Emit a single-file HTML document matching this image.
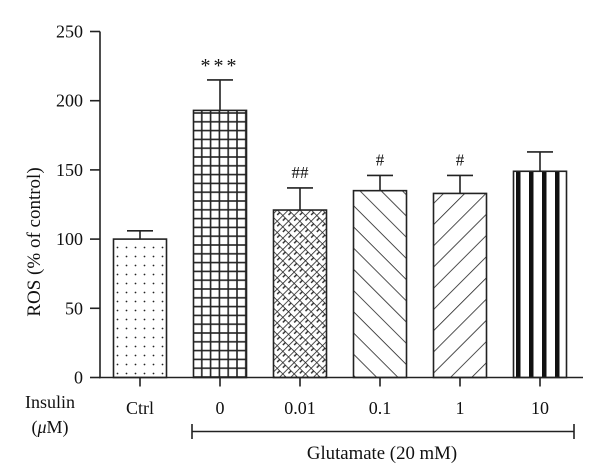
<!DOCTYPE html>
<html><head><meta charset="utf-8"><style>
html,body{margin:0;padding:0;background:#fff;position:relative}
svg{display:block}
svg text{font-family:"Liberation Serif",serif;fill:#111}
</style></head><body>
<svg id="chart" width="600" height="473" viewBox="0 0 600 473">
<defs>
<pattern id="p0" width="9" height="9" patternUnits="userSpaceOnUse" x="113" y="0"><circle cx="4.5" cy="4.5" r="0.9" fill="#222"/></pattern>
<pattern id="p1" width="8.8" height="8.8" patternUnits="userSpaceOnUse" x="193" y="377"><rect width="8.8" height="8.8" fill="none" stroke="#222" stroke-width="1.6"/></pattern>
<pattern id="p2" width="8" height="8" patternUnits="userSpaceOnUse" patternTransform="rotate(45)"><path d="M0 0H8M0 0V8" stroke="#222" stroke-width="1.6"/><path d="M4 0V4" stroke="#222" stroke-width="1.4"/></pattern>
<pattern id="p3" width="15" height="15" patternUnits="userSpaceOnUse" patternTransform="rotate(45)"><path d="M0 0H15" stroke="#222" stroke-width="1.6"/></pattern>
<pattern id="p4" width="15" height="15" patternUnits="userSpaceOnUse" patternTransform="rotate(-45)"><path d="M0 0H15" stroke="#222" stroke-width="1.6"/></pattern>
<pattern id="p5" width="13" height="10" patternUnits="userSpaceOnUse" x="516"><rect x="0" y="0" width="4.5" height="10" fill="#111"/></pattern>
</defs>
<g id="bars"></g>
<g id="axes"></g>
<text x="40" y="242" transform="rotate(-90 40 242)" text-anchor="middle" font-size="19" font-family="Liberation Serif, serif">ROS (% of control)</text>
<text x="50" y="408" text-anchor="middle" font-size="18" font-family="Liberation Serif, serif">Insulin</text>
<text x="50" y="433" text-anchor="middle" font-size="18" font-family="Liberation Serif, serif">(<tspan font-style="italic">μ</tspan>M)</text>
<g stroke="#222" stroke-width="1.6">
<line x1="192" x2="574" y1="431.5" y2="431.5"/>
<line x1="192" x2="192" y1="424" y2="439"/>
<line x1="574" x2="574" y1="424" y2="439"/>
</g>
<text x="382" y="459" text-anchor="middle" font-size="18.8" font-family="Liberation Serif, serif">Glutamate (20 mM)</text>
</svg>
<script>
const categories=["Ctrl","0","0.01","0.1","1","10"];
const values=[100,193,121,135,133,149];
const errors=[6,22,16,11,13,14];
const marks=["","***","##","#","#",""];
const yTicks=[0,50,100,150,200,250];
const patterns=["p0","p1","p2","p3","p4","p5"];

const NS="http://www.w3.org/2000/svg";
const y0=377.5,yTop=31.5,yMax=250;
const y=v=>y0-(v/yMax)*(y0-yTop);
const x=i=>140+i*80;
const bw=53;
function mk(tag,attrs,parent,txt){const e=document.createElementNS(NS,tag);for(const k in attrs)e.setAttribute(k,attrs[k]);if(txt!=null)e.textContent=txt;parent.appendChild(e);return e;}
const bars=document.getElementById('bars'),axes=document.getElementById('axes');
const FF="Liberation Serif, serif";
categories.forEach((c,i)=>{
  const cx=x(i),top=y(values[i]),et=y(values[i]+errors[i]);
  const eb=mk('line',{x1:cx,x2:cx,y1:top,y2:et,stroke:'#222','stroke-width':1.6},bars);
  
  
  const cap=mk('line',{x1:cx-13,x2:cx+13,y1:et,y2:et,stroke:'#222','stroke-width':1.6},bars);
  
  
  const r=mk('rect',{x:cx-bw/2,y:top,width:bw,height:y0-top,fill:'#fff',stroke:'none'},bars);
  
  
  const b=mk('rect',{x:cx-bw/2,y:top,width:bw,height:y0-top,fill:'url(#'+patterns[i]+')',stroke:'#222','stroke-width':1.6},bars);
  
  
  if(marks[i]){
    const star=marks[i][0]=='*';
    const m=mk('text',{x:cx,y:et-(star?8:10),'text-anchor':'middle','font-size':star?20:17,'font-family':FF,'letter-spacing':star?3:0},bars,marks[i]);
    
    
  }
  const t=mk('line',{x1:cx,x2:cx,y1:y0,y2:y0+9,stroke:'#222','stroke-width':1.6},axes);
  
  
  const l=mk('text',{x:cx,y:414,'text-anchor':'middle','font-size':18,'font-family':FF},axes,c);
  
  
});
yTicks.forEach(v=>{
  const t=mk('line',{x1:90,x2:100,y1:y(v),y2:y(v),stroke:'#222','stroke-width':1.6},axes);
  
  
  const l=mk('text',{x:83,y:y(v)+6,'text-anchor':'end','font-size':18,'font-family':FF},axes,v);
  
  
});
const ya=mk('line',{x1:100,x2:100,y1:yTop,y2:y0+0.8,stroke:'#222','stroke-width':1.6},axes);


const xa=mk('line',{x1:99,x2:583,y1:y0,y2:y0,stroke:'#222','stroke-width':1.6},axes);


</script>
</body></html>
